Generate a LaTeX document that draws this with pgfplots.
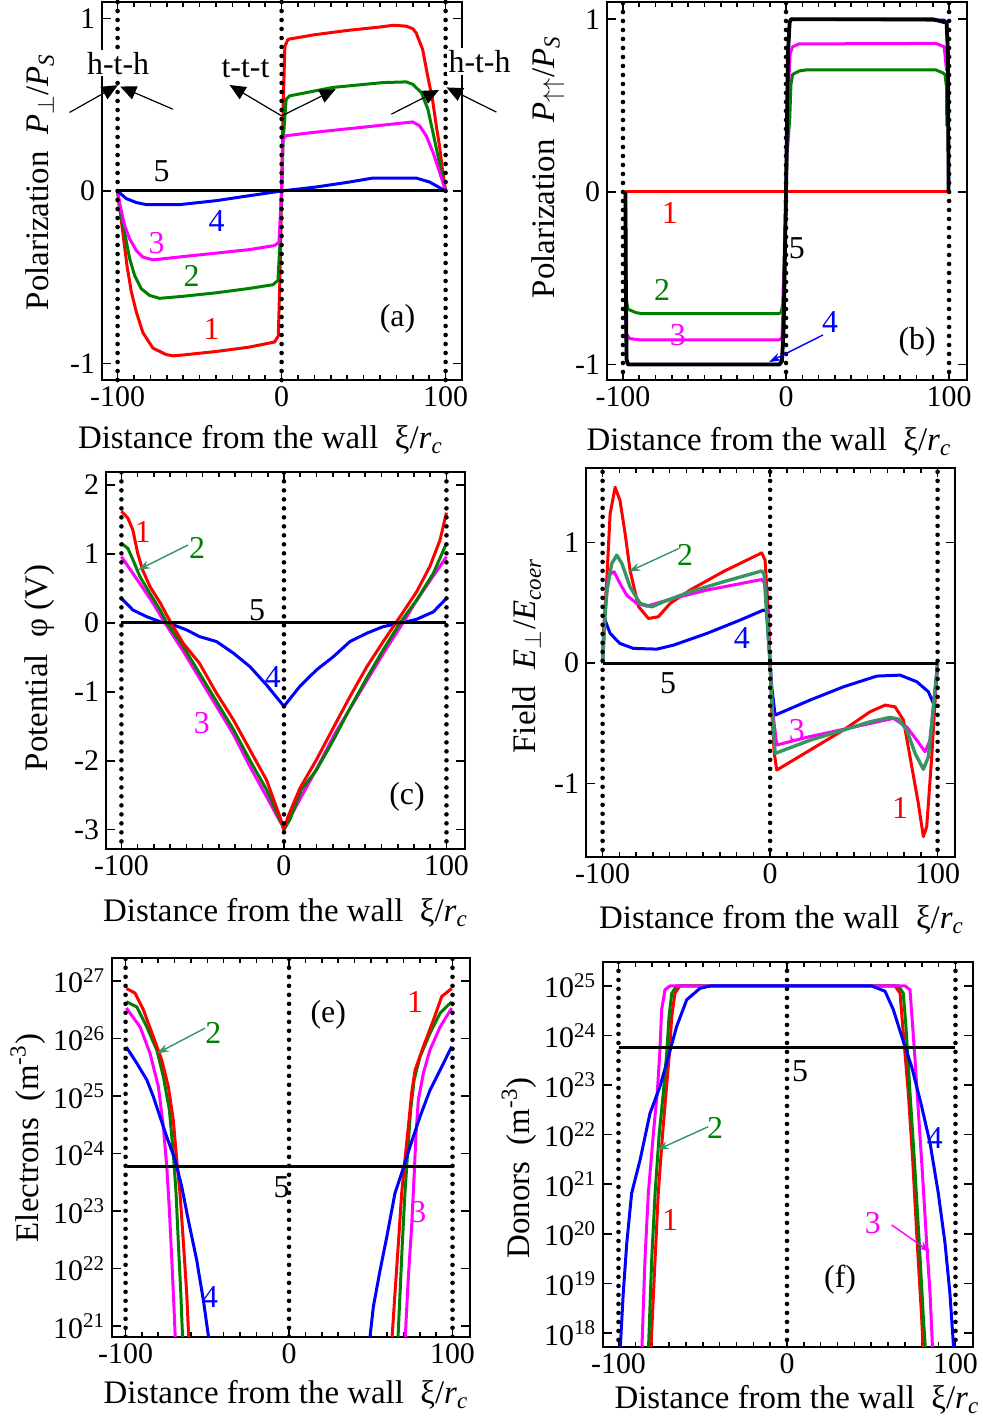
\documentclass[border=0pt]{standalone}
\usepackage{fontspec}
\setmainfont{Liberation Serif}
\usepackage{pgfplots}
\pgfplotsset{compat=1.18}
\usetikzlibrary{arrows.meta}

\definecolor{cred}{RGB}{255,0,0}
\definecolor{cgreen}{RGB}{0,128,0}
\definecolor{cmag}{RGB}{255,0,255}
\definecolor{cblue}{RGB}{0,0,255}
\definecolor{cteal}{RGB}{56,148,98}

\tikzset{
  num/.style={font=\fontsize{16}{18}\selectfont},
  wall/.style={black, line width=2.3bp, line cap=round, dash pattern=on 0pt off 4.5bp},
}
\pgfplotsset{
  panel/.style={
    scale only axis, anchor=south west,
    xmin=-110, xmax=110,
    xtick={-100,0,100}, xticklabels={-100,0,100},
    minor x tick num=9,
    tick align=inside, tick pos=both,
    major tick length=4.5bp, minor tick length=2.5bp,
    every tick/.style={black, line width=0.8bp},
    axis line style={line width=1.4bp},
    ticklabel style={font=\fontsize{15}{16}\selectfont},
    every axis x label/.style={at={(axis description cs:0.45,-0.16)}, anchor=center, font=\fontsize{16.5}{18}\selectfont},
    every axis y label/.style={at={(axis description cs:-0.17,0.5)}, anchor=center, rotate=90, font=\fontsize{16.5}{18}\selectfont},
    xlabel={Distance from the wall\ \ ξ/\textit{r}\textsubscript{\textit{c}}},
  },
  c1/.style={cred, line width=1.5bp, line join=round},
  c2/.style={cgreen, line width=1.5bp, line join=round},
  c3/.style={cmag, line width=1.5bp, line join=round},
  c4/.style={cblue, line width=1.5bp, line join=round},
  c5/.style={black, line width=1.5bp},
}

\begin{document}
\begin{tikzpicture}
\useasboundingbox (0,0) rectangle (491.5bp,710bp);

% ---------- (a)
\begin{axis}[panel, at={(51bp,520bp)}, width=180bp, height=189bp,
  xmin=-109.5, xmax=110, ymin=-1.095, ymax=1.095,
  ytick={-1,0,1}, yticklabels={-1,0,1}, clip=false,
  xlabel style={at={(axis description cs:0.44,-0.159)}},
  ylabel style={at={(axis description cs:-0.172,0.524)}},
  ylabel={Polarization\ \ \textit{P}\textsubscript{$\perp$}/\textit{P}\textsubscript{\textit{S}}}]
\addplot[c1] coordinates {(-100,0)(-98.4,-0.12)(-96.3,-0.28)(-94.3,-0.43)(-91.7,-0.58)(-88.6,-0.70)(-84.6,-0.82)(-78.5,-0.91)(-70.3,-0.948)(-66,-0.955)(-60,-0.95)(-40,-0.93)(-20,-0.905)(-4.3,-0.875)(-2,-0.84)(-1,-0.5)(0,0)(1,0.5)(2,0.84)(4,0.879)(20,0.905)(40,0.93)(60,0.95)(68,0.96)(76,0.955)(80,0.94)(82,0.917)(86,0.82)(89,0.67)(92,0.53)(94.3,0.38)(96.3,0.26)(98,0.13)(100,0)};
\addplot[c2] coordinates {(-100,0)(-98.8,-0.10)(-95.7,-0.24)(-92.7,-0.39)(-89.6,-0.49)(-85.6,-0.566)(-80.5,-0.605)(-74.4,-0.622)(-60,-0.61)(-40,-0.59)(-20,-0.565)(-5.3,-0.543)(-2.2,-0.518)(-1,-0.3)(0,0)(1,0.3)(2.8,0.532)(4.9,0.551)(31.3,0.60)(61.8,0.628)(76,0.632)(80,0.618)(85.2,0.57)(89.2,0.474)(92.3,0.339)(95.3,0.204)(100,0)};
\addplot[c3] coordinates {(-100,0)(-98.4,-0.085)(-95.7,-0.20)(-92.7,-0.276)(-88.6,-0.345)(-84.6,-0.383)(-78.5,-0.399)(-60,-0.38)(-40,-0.36)(-20,-0.34)(-4.3,-0.316)(-1.6,-0.297)(0,0)(0.8,0.30)(2.8,0.32)(20,0.34)(40,0.36)(60,0.38)(80,0.40)(84.1,0.378)(88.2,0.32)(92.3,0.224)(96.3,0.11)(100,0)};
\addplot[c4] coordinates {(-100,0)(-94.7,-0.044)(-88.6,-0.067)(-82.5,-0.079)(-62.2,-0.079)(-39.8,-0.056)(-19.5,-0.027)(0,0)(21,0.023)(41.5,0.052)(55.7,0.075)(82,0.075)(90.2,0.052)(100,0)};
\addplot[c5] coordinates {(-100,0)(100,0)};
\addplot[wall] coordinates {(-100,-1.095)(-100,1.095)};
\addplot[wall] coordinates {(0,-1.095)(0,1.095)};
\addplot[wall] coordinates {(100,-1.095)(100,1.095)};
\node[num] at (axis cs:-73.2,0.116) {5};
\node[num, cblue] at (axis cs:-39.6,-0.173) {4};
\node[num, cmag] at (axis cs:-76.2,-0.30) {3};
\node[num, cgreen] at (axis cs:-54.9,-0.49) {2};
\node[num, cred] at (axis cs:-42.7,-0.80) {1};
\node[num] at (axis cs:70.7,-0.74) {(a)};
\begin{scope}[line width=0.6bp, -{Triangle[length=8bp,width=7bp]}]
\draw (axis cs:-129.3,0.455) -- (axis cs:-99.8,0.613);
\draw (axis cs:-66.3,0.474) -- (axis cs:-98.4,0.605);
\draw (axis cs:0,0.435) -- (axis cs:-31.7,0.614);
\draw (axis cs:0,0.435) -- (axis cs:33,0.59);
\draw (axis cs:66.9,0.445) -- (axis cs:96,0.585);
\draw (axis cs:131,0.457) -- (axis cs:100.6,0.60);
\end{scope}
\node[num, fill=white, inner sep=1bp] at (axis cs:-99.7,0.74) {h-t-h};
\node[num, fill=white, inner sep=1bp] at (axis cs:-22,0.711) {t-t-t};
\node[num, fill=white, inner sep=1bp] at (axis cs:120.7,0.751) {h-t-h};
\end{axis}

% ---------- (b)
\begin{axis}[panel, at={(303.5bp,520bp)}, width=180bp, height=189bp,
  xmin=-109.8, xmax=111, ymin=-1.09, ymax=1.10,
  ytick={-1,0,1}, yticklabels={-1,0,1},
  xlabel style={at={(axis description cs:0.45,-0.164)}},
  ylabel style={at={(axis description cs:-0.164,0.563)}},
  ylabel={Polarization\ \ \textit{P}\textsubscript{$\uparrow\uparrow$}/\textit{P}\textsubscript{\textit{S}}}]
\addplot[c1] coordinates {(-99,0)(99.5,0)};
\addplot[c2] coordinates {(-98.6,-0.38)(-98,-0.62)(-97,-0.68)(-92,-0.70)(-88,-0.706)(-5,-0.706)(-3,-0.70)(-2,-0.65)(-0.5,-0.2)(0.5,0.2)(2.3,0.43)(3,0.62)(4,0.68)(8,0.70)(12,0.706)(92,0.706)(96,0.69)(97.5,0.68)(98.5,0.6)(98.6,0.38)};
\addplot[c3] coordinates {(-98.5,-0.7)(-98,-0.82)(-96,-0.85)(-90,-0.857)(-4,-0.857)(-2.5,-0.845)(-1.5,-0.6)(0,0)(1.5,0.6)(2.5,0.80)(4,0.84)(8,0.857)(92,0.86)(97,0.84)(98.5,0.7)};
\addplot[c4] coordinates {(-98.5,0)(-98.2,-0.6)(-97.8,-0.97)(-97,-1)(-4,-1)(-2.5,-0.98)(-1.5,-0.8)(0,0)(1.2,0.8)(2.2,0.98)(3,1)(97,0.995)(98.5,0.98)(99.3,0.8)(99.7,0)};
\addplot[black, line width=1.9bp, line join=round] coordinates {(-98.5,0)(-98.2,-0.6)(-97.8,-0.97)(-97,-1)(-4,-1)(-2.5,-0.98)(-1.5,-0.8)(0,0)(1.2,0.8)(2.2,0.98)(3,1)(90,1)(98.5,0.98)(99.3,0.8)(99.7,0)};
\addplot[wall] coordinates {(-100,-1.2)(-100,1.2)};
\addplot[wall] coordinates {(0,-1.2)(0,1.2)};
\addplot[wall] coordinates {(100,-1.2)(100,1.2)};
\node[num, cred] at (axis cs:-71.2,-0.122) {1};
\node[num] at (axis cs:6.7,-0.325) {5};
\node[num, cgreen] at (axis cs:-76,-0.568) {2};
\node[num, cmag] at (axis cs:-66.3,-0.829) {3};
\node[num, cblue] at (axis cs:27,-0.754) {4};
\draw[cblue, line width=0.7bp, -{Stealth[length=6bp,width=4bp]}] (axis cs:22.7,-0.829) -- (axis cs:-10.4,-0.986);
\node[num] at (axis cs:80.4,-0.87) {(b)};
\end{axis}

% ---------- (c)
\begin{axis}[panel, at={(53bp,285.5bp)}, width=179.5bp, height=188.5bp,
  xmin=-109.5, xmax=111.4, ymin=-3.28, ymax=2.19,
  ytick={-3,-2,-1,0,1,2}, yticklabels={-3,-2,-1,0,1,2},
  xlabel style={at={(axis description cs:0.50,-0.17)}},
  ylabel style={at={(axis description cs:-0.184,0.48)}},
  ylabel={Potential\ \ φ (V)}]
\addplot[c4] coordinates {(-100,0.357)(-93,0.188)(-84.6,0.092)(-76.3,0.019)(-68,-0.029)(-60,-0.10)(-52,-0.198)(-41.5,-0.27)(-31,-0.44)(-21,-0.633)(-10.7,-0.9)(0,-1.21)(9.8,-0.92)(20.1,-0.68)(30.4,-0.49)(40.6,-0.27)(50.9,-0.15)(61.1,-0.053)(71.4,-0.005)(81.6,0.053)(91.9,0.16)(100,0.357)};
\addplot[c3] coordinates {(-100,0.96)(-93,0.72)(-86.6,0.50)(-80.5,0.285)(-74.3,0.04)(-62,-0.41)(-52,-0.80)(-41.5,-1.21)(-31,-1.62)(-21,-2.08)(-10.7,-2.52)(-2.5,-2.88)(0,-2.95)(2.5,-2.88)(10.7,-2.52)(21,-2.08)(31,-1.62)(41.5,-1.21)(52,-0.80)(62,-0.41)(74.3,0.04)(80.5,0.285)(86.6,0.50)(93,0.72)(100,0.96)};
\addplot[c2] coordinates {(-100,1.155)(-96,1.08)(-93,0.92)(-88.6,0.67)(-82.5,0.43)(-76.3,0.19)(-72,0)(-62,-0.34)(-52,-0.73)(-41.5,-1.14)(-31,-1.55)(-21,-1.99)(-10.7,-2.42)(-2.5,-2.85)(0,-3.0)(3.7,-2.85)(10.7,-2.42)(20.1,-2.13)(30.4,-1.70)(40.6,-1.24)(50.9,-0.80)(61.1,-0.39)(71.4,0.0)(81.6,0.33)(91.9,0.72)(100,1.155)};
\addplot[c1] coordinates {(-100,1.62)(-96,1.52)(-93,1.35)(-90,1.01)(-87,0.77)(-82.5,0.53)(-76,0.285)(-70,0.02)(-62,-0.295)(-52,-0.585)(-41.5,-1.02)(-31,-1.41)(-21,-1.84)(-10.7,-2.28)(-2.5,-2.81)(0,-3.0)(2.5,-2.81)(9.8,-2.40)(20.1,-1.98)(30.4,-1.52)(40.6,-1.07)(50.9,-0.64)(61.1,-0.27)(71.4,0.09)(81.6,0.45)(89.8,0.82)(96,1.20)(100,1.60)};
\addplot[c5] coordinates {(-100,0)(100,0)};
\addplot[wall] coordinates {(-100,-3.3)(-100,2.2)};
\addplot[wall] coordinates {(0,-3.3)(0,2.2)};
\addplot[wall] coordinates {(100,-3.3)(100,2.2)};
\node[num, cred] at (axis cs:-86.8,1.32) {1};
\node[num, cgreen] at (axis cs:-53.5,1.087) {2};
\draw[cteal, line width=0.7bp, -{Stealth[length=6bp,width=4bp]}] (axis cs:-59.1,1.13) -- (axis cs:-89.8,0.768);
\node[num] at (axis cs:-16.6,0.188) {5};
\node[num, cblue] at (axis cs:-6.8,-0.78) {4};
\node[num, cmag] at (axis cs:-50.5,-1.45) {3};
\node[num] at (axis cs:75.7,-2.52) {(c)};
\end{axis}

% ---------- (d)
\begin{axis}[panel, at={(293bp,281.5bp)}, width=184.5bp, height=194.5bp,
  xmin=-109.9, xmax=110.4, ymin=-1.61, ymax=1.62,
  ytick={-1,0,1}, yticklabels={-1,0,1},
  xlabel style={at={(axis description cs:0.53,-0.162)}},
  ylabel style={at={(axis description cs:-0.16,0.517)}},
  ylabel={Field\ \ \textit{E}\textsubscript{$\perp$}/\textit{E}\textsubscript{\textit{coer}}}]
\addplot[c4] coordinates {(-100,0)(-99.3,0.3)(-98.5,0.357)(-95.5,0.246)(-89.6,0.163)(-81.6,0.122)(-67.6,0.116)(-57.7,0.149)(-37.8,0.246)(-17.9,0.357)(-4,0.44)(-2,0.43)(-1,0.2)(0,0)(1,-0.2)(3,-0.432)(23.9,-0.307)(43.8,-0.197)(63.7,-0.108)(77.6,-0.1)(87.6,-0.155)(94.5,-0.238)(97.5,-0.335)(99.3,-0.15)(100,0)};
\addplot[c1] coordinates {(-100,0)(-99.3,0.3)(-97.5,0.69)(-95.5,1.24)(-92.5,1.46)(-89.6,1.35)(-86.6,1.08)(-83.6,0.77)(-78.6,0.47)(-72.6,0.37)(-66.7,0.385)(-59.7,0.495)(-47.8,0.606)(-27.9,0.76)(-5,0.915)(-3,0.855)(-1,0.41)(0,0)(1,-0.4)(2.5,-0.75)(4,-0.888)(23.9,-0.722)(43.8,-0.556)(59.7,-0.404)(68.7,-0.349)(74.6,-0.363)(79.6,-0.473)(84.6,-0.86)(88.5,-1.165)(91.5,-1.44)(93.5,-1.36)(96.5,-0.778)(99.5,-0.085)(100,0)};
\addplot[c3] coordinates {(-100,0)(-98.5,0.41)(-96.5,0.73)(-93.1,0.758)(-89.6,0.66)(-85.6,0.564)(-79.6,0.495)(-73.6,0.473)(-57.7,0.537)(-37.8,0.606)(-5,0.694)(-3,0.66)(-1,0.3)(0,0)(1.5,-0.4)(4,-0.68)(23.9,-0.61)(43.8,-0.55)(73.6,-0.459)(81.6,-0.53)(87.6,-0.64)(92.5,-0.736)(95.5,-0.64)(98.5,-0.224)(100,0)};
\addplot[cteal, line width=1.7bp, line join=round] coordinates {(-100,0)(-98.5,0.4)(-97.5,0.60)(-94.5,0.827)(-91.5,0.896)(-88.5,0.827)(-83.6,0.633)(-77.6,0.495)(-70.6,0.467)(-63.7,0.509)(-47.8,0.592)(-27.9,0.675)(-5,0.765)(-3.6,0.74)(-2,0.4)(0,0)(1.5,-0.45)(3,-0.75)(23.9,-0.64)(43.8,-0.556)(59.7,-0.487)(71.6,-0.451)(76.6,-0.465)(81.6,-0.556)(86.6,-0.75)(91.5,-0.882)(94.5,-0.778)(97.5,-0.363)(100,0)};
\addplot[c5] coordinates {(-100,0)(100,0)};
\addplot[wall] coordinates {(-100,-1.7)(-100,1.7)};
\addplot[wall] coordinates {(0,-1.7)(0,1.7)};
\addplot[wall] coordinates {(100,-1.7)(100,1.7)};
\node[num, cgreen] at (axis cs:-50.7,0.896) {2};
\draw[cteal, line width=0.7bp, -{Stealth[length=6bp,width=4bp]}] (axis cs:-54.7,0.95) -- (axis cs:-84.6,0.758);
\node[num, cblue] at (axis cs:-16.9,0.205) {4};
\node[num] at (axis cs:-60.9,-0.166) {5};
\node[num, cmag] at (axis cs:15.9,-0.556) {3};
\node[num, cred] at (axis cs:77.6,-1.2) {1};
\end{axis}

% ---------- (e)
\begin{axis}[panel, at={(56bp,41.5bp)}, width=179bp, height=189.5bp,
  xmin=-108.3, xmax=110.7, ymin=20.81, ymax=27.4,
  ytick={21,22,23,24,25,26,27},
  yticklabels={10\textsuperscript{21},10\textsuperscript{22},10\textsuperscript{23},10\textsuperscript{24},10\textsuperscript{25},10\textsuperscript{26},10\textsuperscript{27}},
  xlabel style={at={(axis description cs:0.486,-0.153)}},
  ylabel style={at={(axis description cs:-0.235,0.525)}},
  ylabel={Electrons\ \ (m\textsuperscript{-3})}]
% y values are log10 of the density
\addplot[c3] coordinates {(-99.5,26.53)(-91.1,26.2)(-85,25.74)(-79.9,25.16)(-76.9,24.47)(-74.8,23.77)(-73.2,23.02)(-71.7,22.15)(-70.3,21.28)(-69.5,20.7)};
\addplot[c3] coordinates {(70.9,20.7)(73,21.86)(75,22.73)(76.5,23.6)(77.7,24.35)(79.1,24.93)(82.2,25.4)(86.2,25.8)(92.4,26.2)(99.5,26.53)};
\addplot[c2] coordinates {(-99.5,26.64)(-93.1,26.55)(-87,26.2)(-80.9,25.8)(-76.9,25.34)(-73.2,24.76)(-70.8,24.0)(-69.1,23.31)(-67.7,22.44)(-66.2,21.57)(-65,20.7)};
\addplot[c2] coordinates {(66.5,20.7)(67.9,21.57)(69.3,22.44)(70.9,23.31)(72.9,24.16)(74.4,24.76)(76.5,25.28)(80.1,25.68)(86.2,26.09)(92.4,26.44)(99.5,26.64)};
\addplot[c1] coordinates {(-99.5,26.87)(-94.2,26.79)(-89.1,26.5)(-83,26.03)(-77.9,25.63)(-73.8,25.16)(-70.8,24.58)(-68.7,23.89)(-66.7,23.31)(-64.6,22.44)(-62.6,21.57)(-61.2,20.7)};
\addplot[c1] coordinates {(62.8,20.7)(64.8,21.57)(66.9,22.44)(68.9,23.31)(70.9,23.89)(73,24.47)(75,25.05)(77.1,25.45)(82.2,25.86)(88.3,26.32)(93.4,26.73)(99.5,26.87)};
\addplot[c4] coordinates {(-99.5,25.85)(-93.1,25.57)(-87,25.28)(-83,24.99)(-78.9,24.64)(-74.8,24.29)(-69.7,23.89)(-65.6,23.42)(-61.6,22.84)(-56.5,22.15)(-52.4,21.45)(-48.7,20.7)};
\addplot[c4] coordinates {(49.1,20.7)(51.6,21.34)(55.7,21.97)(59.8,22.55)(64.8,23.31)(68.9,23.66)(74,24.12)(80.1,24.64)(86.2,25.1)(92.4,25.45)(99.5,25.86)};
\addplot[c5] coordinates {(-99,23.77)(101,23.77)};
\addplot[wall] coordinates {(-100,20.5)(-100,27.5)};
\addplot[wall] coordinates {(0,20.5)(0,27.5)};
\addplot[wall] coordinates {(100,20.5)(100,27.5)};
\node[num, cred] at (axis cs:77.1,26.64) {1};
\node[num] at (axis cs:24,26.41) {(e)};
\node[num, cgreen] at (axis cs:-46.3,26.09) {2};
\draw[cteal, line width=0.7bp, -{Stealth[length=6bp,width=4bp]}] (axis cs:-51.4,26.18) -- (axis cs:-80.9,25.74);
\node[num] at (axis cs:-4.5,23.42) {5};
\node[num, cmag] at (axis cs:79.1,22.99) {3};
\node[num, cblue] at (axis cs:-48.3,21.51) {4};
\end{axis}

% ---------- (f)
\begin{axis}[panel, at={(301.5bp,36.5bp)}, width=185bp, height=192.5bp,
  xmin=-109.2, xmax=110.4, ymin=17.72, ymax=25.48,
  ytick={18,19,20,21,22,23,24,25},
  yticklabels={10\textsuperscript{18},10\textsuperscript{19},10\textsuperscript{20},10\textsuperscript{21},10\textsuperscript{22},10\textsuperscript{23},10\textsuperscript{24},10\textsuperscript{25}},
  xlabel style={at={(axis description cs:0.524,-0.138)}},
  ylabel style={at={(axis description cs:-0.227,0.465)}},
  ylabel={Donors\ \ (m\textsuperscript{-3})}]
% y values are log10 of the density
\addplot[c1] coordinates {(-80.9,17.6)(-78.3,19.48)(-76.4,20.82)(-73.8,22.03)(-71.8,22.84)(-69.8,23.64)(-68.4,24.38)(-66.5,24.85)(-63.5,25)(64.1,25)(67.1,24.85)(68.7,24.18)(72,22.84)(74.6,21.49)(77.3,19.81)(79.9,18.33)(80.9,17.6)};
\addplot[c2] coordinates {(-82.3,17.6)(-80.3,19.48)(-78.3,20.82)(-75.8,22.03)(-73.4,22.84)(-71.4,23.64)(-70,24.38)(-68.4,24.85)(-65.5,25)(66.1,25)(69,24.85)(70.6,24.18)(73,22.84)(75.6,21.49)(78.5,19.81)(80.9,18.33)(82.3,17.6)};
\addplot[c3] coordinates {(-86.2,17.6)(-84.3,19.48)(-82.3,20.82)(-79.3,22.03)(-77,22.84)(-75.4,23.71)(-74.4,24.52)(-72.4,24.92)(-69.4,25.0)(70,25)(73,24.92)(74.6,24.18)(76,23.51)(77.9,22.5)(80.5,21.16)(82.9,19.81)(84.9,18.8)(86.5,17.6)};
\addplot[c4] coordinates {(-99.1,17.6)(-97.2,18.8)(-95.1,19.81)(-92.2,20.82)(-87.2,21.49)(-81.3,22.43)(-75.4,22.97)(-70.4,23.57)(-65.5,24.18)(-59.5,24.72)(-51.6,24.95)(-45,25)(50,25)(58.2,24.89)(63.1,24.52)(68.1,23.98)(74,23.37)(79.9,22.57)(84.9,21.83)(89.8,20.82)(93.8,19.81)(96.7,18.8)(99.1,17.6)};
\addplot[c5] coordinates {(-100,23.76)(100,23.76)};
\addplot[wall] coordinates {(-100,17.5)(-100,25.6)};
\addplot[wall] coordinates {(0,17.5)(0,25.6)};
\addplot[wall] coordinates {(100,17.5)(100,25.6)};
\node[num] at (axis cs:7.7,23.27) {5};
\node[num, cgreen] at (axis cs:-42.7,22.14) {2};
\draw[cteal, line width=0.7bp, -{Stealth[length=6bp,width=4bp]}] (axis cs:-46.7,22.16) -- (axis cs:-77.3,21.69);
\node[num, cblue] at (axis cs:87.8,21.94) {4};
\node[num, cred] at (axis cs:-69.4,20.28) {1};
\node[num, cmag] at (axis cs:51,20.22) {3};
\draw[cmag, line width=0.7bp, -{Stealth[length=6bp,width=4bp]}] (axis cs:62.1,20.18) -- (axis cs:84.9,19.64);
\node[num] at (axis cs:31.5,19.07) {(f)};
\end{axis}
\end{tikzpicture}
\end{document}
